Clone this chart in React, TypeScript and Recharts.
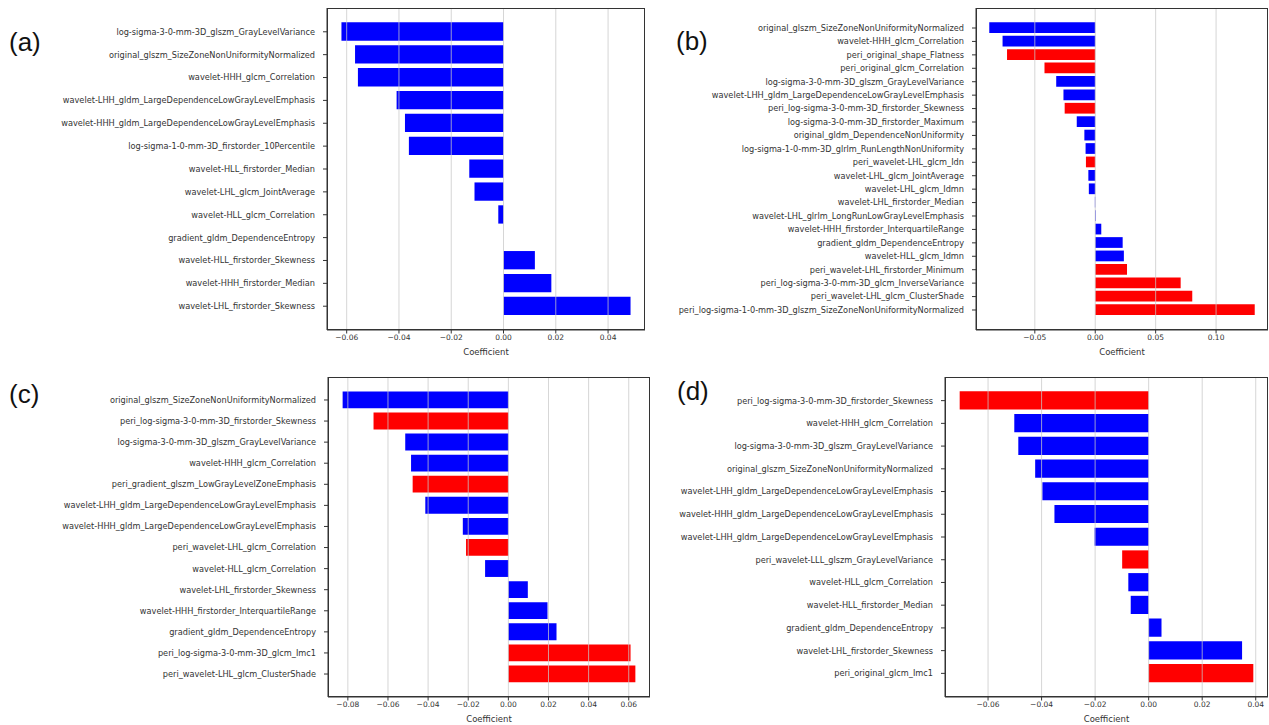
import { Bar, BarChart, Cell, ReferenceLine, XAxis, YAxis } from 'recharts';

// (a)
const featuresA = [
    'log-sigma-3-0-mm-3D_glszm_GrayLevelVariance',
    'original_glszm_SizeZoneNonUniformityNormalized',
    'wavelet-HHH_glcm_Correlation',
    'wavelet-LHH_gldm_LargeDependenceLowGrayLevelEmphasis',
    'wavelet-HHH_gldm_LargeDependenceLowGrayLevelEmphasis',
    'log-sigma-1-0-mm-3D_firstorder_10Percentile',
    'wavelet-HLL_firstorder_Median',
    'wavelet-LHL_glcm_JointAverage',
    'wavelet-HLL_glcm_Correlation',
    'gradient_gldm_DependenceEntropy',
    'wavelet-HLL_firstorder_Skewness',
    'wavelet-HHH_firstorder_Median',
    'wavelet-LHL_firstorder_Skewness',
];
const coefA = [-0.062, -0.0568, -0.0557, -0.0409, -0.0377, -0.0362, -0.0131, -0.0111, -0.002, 0, 0.012, 0.0183, 0.0486];
const ticksA = [-0.06, -0.04, -0.02, 0, 0.02, 0.04];

// (b)
const featuresB = [
    'original_glszm_SizeZoneNonUniformityNormalized',
    'wavelet-HHH_glcm_Correlation',
    'peri_original_shape_Flatness',
    'peri_original_glcm_Correlation',
    'log-sigma-3-0-mm-3D_glszm_GrayLevelVariance',
    'wavelet-LHH_gldm_LargeDependenceLowGrayLevelEmphasis',
    'peri_log-sigma-3-0-mm-3D_firstorder_Skewness',
    'log-sigma-3-0-mm-3D_firstorder_Maximum',
    'original_gldm_DependenceNonUniformity',
    'log-sigma-1-0-mm-3D_glrlm_RunLengthNonUniformity',
    'peri_wavelet-LHL_glcm_Idn',
    'wavelet-LHL_glcm_JointAverage',
    'wavelet-LHL_glcm_Idmn',
    'wavelet-LHL_firstorder_Median',
    'wavelet-LHL_glrlm_LongRunLowGrayLevelEmphasis',
    'wavelet-HHH_firstorder_InterquartileRange',
    'gradient_gldm_DependenceEntropy',
    'wavelet-HLL_glcm_Idmn',
    'peri_wavelet-LHL_firstorder_Minimum',
    'peri_log-sigma-3-0-mm-3D_glcm_InverseVariance',
    'peri_wavelet-LHL_glcm_ClusterShade',
    'peri_log-sigma-1-0-mm-3D_glszm_SizeZoneNonUniformityNormalized',
];
const coefB = [
    -0.0877, -0.0767, -0.073, -0.042, -0.0323, -0.0263, -0.0253, -0.0153, -0.009, -0.008, -0.0077,
    -0.0057, -0.0053, -0.0003, 0.0005, 0.005, 0.0227, 0.0237, 0.0263, 0.0707, 0.0803, 0.132,
];
const ticksB = [-0.05, 0, 0.05, 0.1];

// (c)
const featuresC = [
    'original_glszm_SizeZoneNonUniformityNormalized',
    'peri_log-sigma-3-0-mm-3D_firstorder_Skewness',
    'log-sigma-3-0-mm-3D_glszm_GrayLevelVariance',
    'wavelet-HHH_glcm_Correlation',
    'peri_gradient_glszm_LowGrayLevelZoneEmphasis',
    'wavelet-LHH_gldm_LargeDependenceLowGrayLevelEmphasis',
    'wavelet-HHH_gldm_LargeDependenceLowGrayLevelEmphasis',
    'peri_wavelet-LHL_glcm_Correlation',
    'wavelet-HLL_glcm_Correlation',
    'wavelet-LHL_firstorder_Skewness',
    'wavelet-HHH_firstorder_InterquartileRange',
    'gradient_gldm_DependenceEntropy',
    'peri_log-sigma-3-0-mm-3D_glcm_Imc1',
    'peri_wavelet-LHL_glcm_ClusterShade',
];
const coefC = [-0.0826, -0.0672, -0.0514, -0.0485, -0.0477, -0.0414, -0.0227, -0.0211, -0.0116, 0.0097, 0.0195, 0.024, 0.0609, 0.0633];
const ticksC = [-0.08, -0.06, -0.04, -0.02, 0, 0.02, 0.04, 0.06];

// (d)
const featuresD = [
    'peri_log-sigma-3-0-mm-3D_firstorder_Skewness',
    'wavelet-HHH_glcm_Correlation',
    'log-sigma-3-0-mm-3D_glszm_GrayLevelVariance',
    'original_glszm_SizeZoneNonUniformityNormalized',
    'wavelet-LHH_gldm_LargeDependenceLowGrayLevelEmphasis',
    'wavelet-HHH_gldm_LargeDependenceLowGrayLevelEmphasis',
    'wavelet-LHH_gldm_LargeDependenceLowGrayLevelEmphasis',
    'peri_wavelet-LLL_glszm_GrayLevelVariance',
    'wavelet-HLL_glcm_Correlation',
    'wavelet-HLL_firstorder_Median',
    'gradient_gldm_DependenceEntropy',
    'wavelet-LHL_firstorder_Skewness',
    'peri_original_glcm_Imc1',
];
const coefD = [-0.0706, -0.0502, -0.0487, -0.0424, -0.0397, -0.0352, -0.0202, -0.0099, -0.0076, -0.0067, 0.0048, 0.0349, 0.0391];
const ticksD = [-0.06, -0.04, -0.02, 0, 0.02, 0.04];

const FONT = '"DejaVu Sans", sans-serif';

function formatTick(v: number): string {
    return (v < 0 ? '\u2212' : '') + Math.abs(v).toFixed(2);
}

interface PanelProps {
    features: string[];
    coef: number[];
    ticks: number[];
    left: number;
    top: number;
    width: number;
    height: number;
    plotLeft: number;
    plotTop: number;
    plotRight: number;
    plotBottom: number;
    labelOffset: number;
}

function CoefPanel({ features, coef, ticks, left, top, width, height, plotLeft, plotTop, plotRight, plotBottom, labelOffset }: PanelProps) {
    const data = features.map((name, i) => ({ i, name, value: coef[i] }));
    const n = features.length;
    const lo = Math.min(0, ...coef);
    const hi = Math.max(0, ...coef);
    const pad = (hi - lo) * 0.05;
    const domain: [number, number] = [lo - pad, hi + pad];
    // matplotlib barh spacing: bar height 0.8, 5% y margins
    const unit = (plotBottom - plotTop) / ((n - 0.2) * 1.1);
    const yPad = (0.05 * (n - 0.2) - 0.1) * unit;

    return (
        <div style={{ position: 'absolute', left, top, width, height }}>
            <BarChart
                width={width}
                height={height}
                data={data}
                layout="vertical"
                margin={{ top: plotTop - top, right: left + width - plotRight, bottom: 0, left: 0 }}
            >
                <XAxis
                    type="number"
                    domain={domain}
                    ticks={ticks}
                    allowDataOverflow
                    height={top + height - plotBottom}
                    tickFormatter={formatTick}
                    tick={{ fontSize: 7.5, fill: '#333', fontFamily: FONT }}
                    tickSize={3.5}
                    tickMargin={1}
                    stroke="#333"
                    label={{ value: 'Coefficient', position: 'insideBottom', offset: labelOffset, fontSize: 8.5, fill: '#333', fontFamily: FONT }}
                />
                <YAxis
                    type="category"
                    dataKey="i"
                    width={plotLeft - left}
                    padding={{ top: yPad, bottom: yPad }}
                    tickFormatter={(v: number) => features[v]}
                    interval={0}
                    tick={{ fontSize: 8.2, fill: '#333', fontFamily: FONT }}
                    tickSize={4}
                    tickMargin={8}
                    stroke="#333"
                />
                <Bar dataKey="value" barSize={unit * 0.8} isAnimationActive={false}>
                    {data.map((d) => (
                        <Cell key={d.i} fill={d.name.startsWith('peri_') ? '#ff0000' : '#0000ff'} />
                    ))}
                </Bar>
                {ticks.map((t) => (
                    <ReferenceLine key={t} x={t} stroke="#c8c8c8" strokeOpacity={0.75} />
                ))}
            </BarChart>
            <div
                style={{
                    position: 'absolute',
                    left: plotLeft - left,
                    top: plotTop - top,
                    width: plotRight - plotLeft,
                    height: plotBottom - plotTop,
                    border: '1px solid #333',
                    boxSizing: 'border-box',
                    pointerEvents: 'none',
                }}
            />
        </div>
    );
}

const tagStyle = { fontFamily: '"Liberation Sans", Arial, sans-serif', fontSize: 26, fill: '#111' };

export default function App() {
    return (
        <div style={{ position: 'absolute', left: 0, top: 0, width: 1269, height: 725, background: '#fff' }}>
            <CoefPanel features={featuresA} coef={coefA} ticks={ticksA} left={0} top={0} width={650} height={362}
                plotLeft={327} plotTop={8} plotRight={645} plotBottom={330} labelOffset={7} />
            <CoefPanel features={featuresB} coef={coefB} ticks={ticksB} left={640} top={0} width={629} height={362}
                plotLeft={976} plotTop={8} plotRight={1268} plotBottom={330} labelOffset={7} />
            <CoefPanel features={featuresC} coef={coefC} ticks={ticksC} left={0} top={362} width={655} height={363}
                plotLeft={328} plotTop={377} plotRight={650} plotBottom={697} labelOffset={3} />
            <CoefPanel features={featuresD} coef={coefD} ticks={ticksD} left={640} top={362} width={629} height={363}
                plotLeft={945} plotTop={377} plotRight={1268} plotBottom={697} labelOffset={3} />
            <svg width={1269} height={725} style={{ position: 'absolute', left: 0, top: 0, pointerEvents: 'none' }}>
                <text x={9} y={51} style={tagStyle}>(a)</text>
                <text x={676} y={50} style={tagStyle}>(b)</text>
                <text x={9} y={403} style={tagStyle}>(c)</text>
                <text x={677} y={400} style={tagStyle}>(d)</text>
            </svg>
        </div>
    );
}
